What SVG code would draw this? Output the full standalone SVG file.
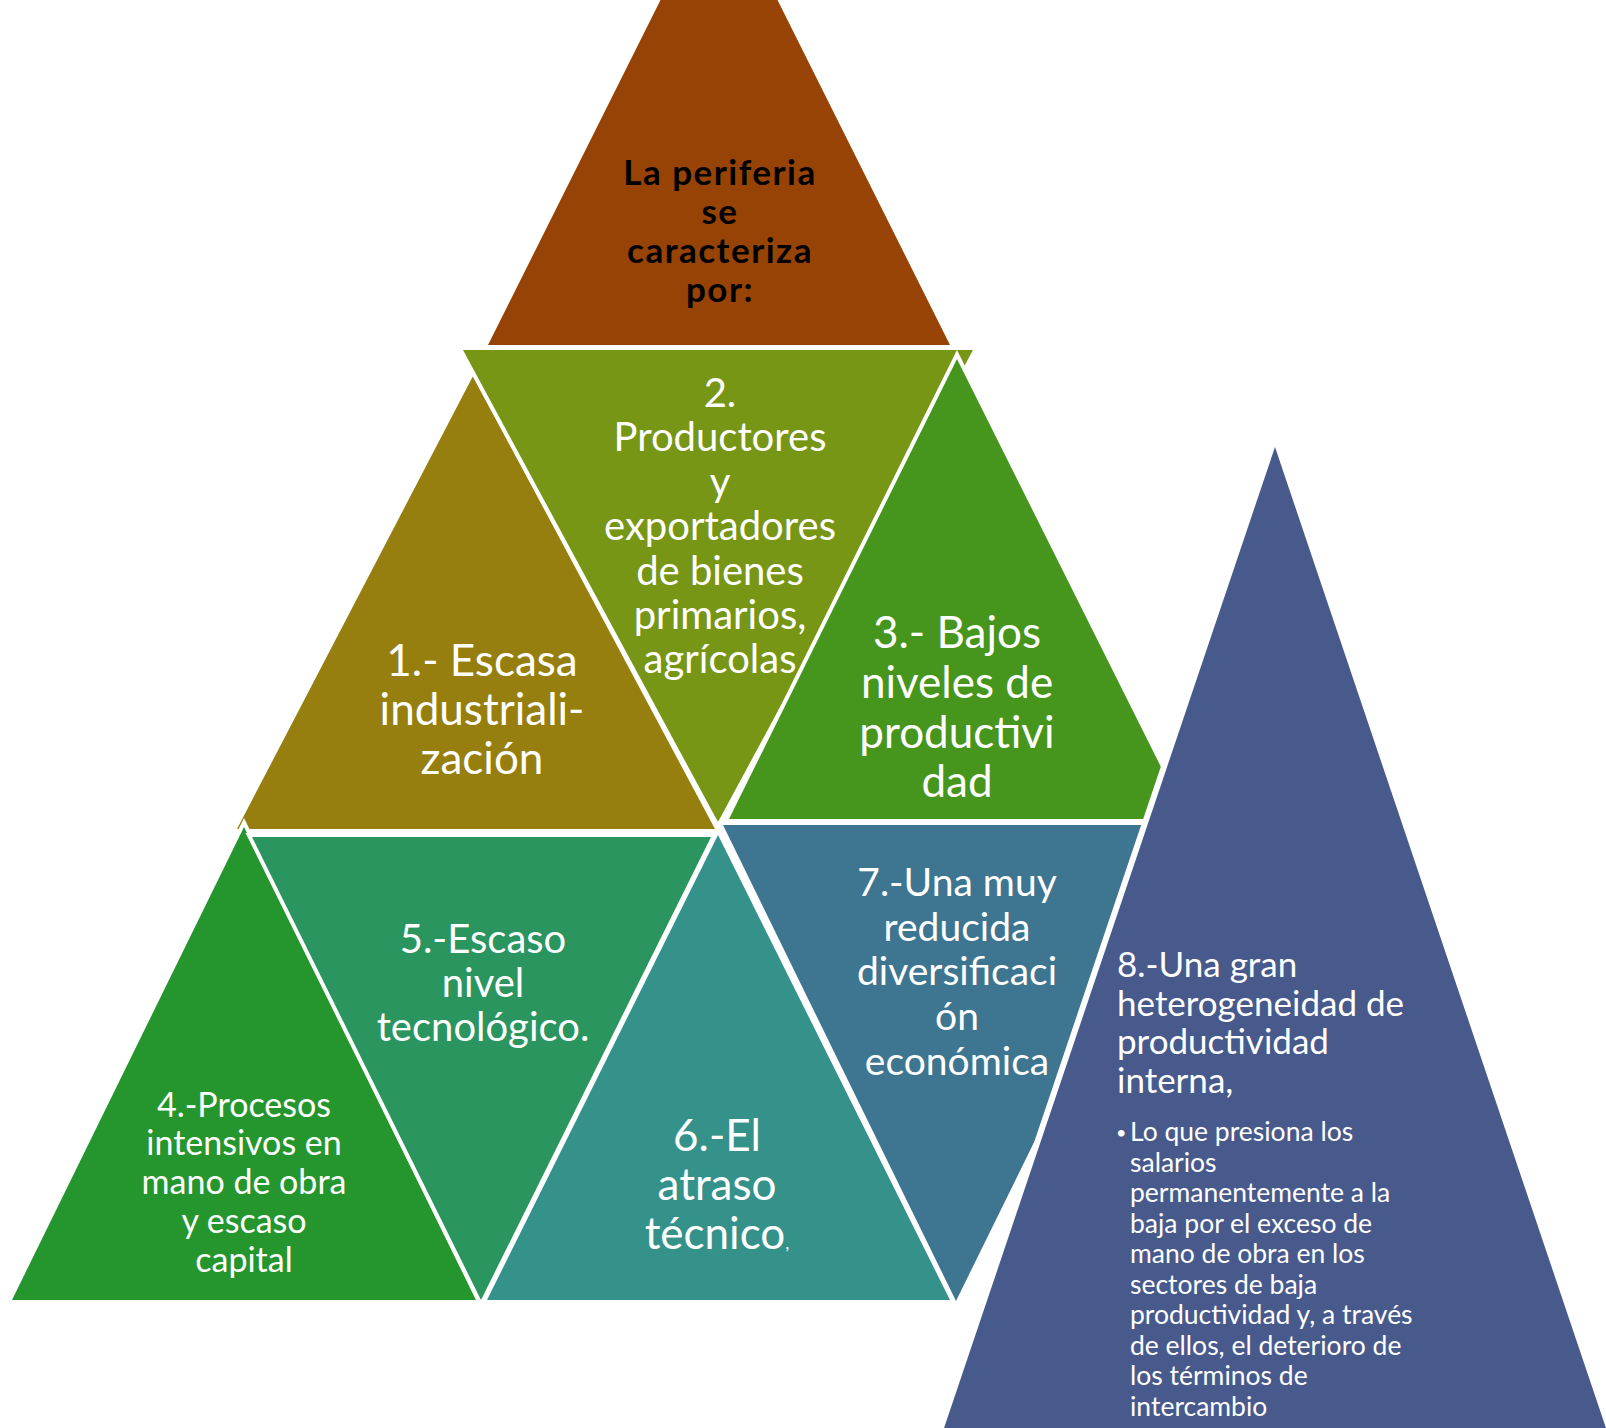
<svg xmlns="http://www.w3.org/2000/svg" width="1606" height="1428" viewBox="0 0 1606 1428">
<style>
.tri{stroke:#ffffff;stroke-width:8;stroke-linejoin:miter;paint-order:stroke}
.t{font-family:Lato,"Open Sans","Liberation Sans",sans-serif;fill:#ffffff;text-anchor:middle}
.title{font-family:Lato,"Open Sans","Liberation Sans",sans-serif;fill:#000000;font-weight:700;font-size:35px;letter-spacing:1.5px;text-anchor:middle}
.l{font-family:Lato,"Open Sans","Liberation Sans",sans-serif;fill:#ffffff}
</style>
<rect width="1606" height="1428" fill="#ffffff"/>
<g id="node-top">
<polygon points="719,-117 950,345 488,345" fill="#974305"/>
<text class="title"><tspan x="720" y="185">La periferia</tspan><tspan x="720" y="224">se</tspan><tspan x="720" y="263">caracteriza</tspan><tspan x="720" y="302">por:</tspan></text>
</g>
<g id="node-1">
<polygon class="tri" points="473,376 715,829 237,829" fill="#967F0E"/>
<text class="t" font-size="44"><tspan x="482" y="676">1.- Escasa</tspan><tspan x="482" y="725">industriali-</tspan><tspan x="482" y="774">zación</tspan></text>
</g>
<g id="node-2">
<polygon class="tri" points="463,350 973,350 718,822" fill="#779616"/>
<text class="t" font-size="40"><tspan x="720" y="407">2.</tspan><tspan x="720" y="451">Productores</tspan><tspan x="720" y="496">y</tspan><tspan x="720" y="540">exportadores</tspan><tspan x="720" y="585">de bienes</tspan><tspan x="720" y="629">primarios,</tspan><tspan x="720" y="673">agrícolas</tspan></text>
</g>
<g id="node-3">
<polygon class="tri" points="957,359 1187,819 729,819" fill="#46961E"/>
<text class="t" font-size="44"><tspan x="957" y="648">3.- Bajos</tspan><tspan x="957" y="698">niveles de</tspan><tspan x="957" y="748">productivi</tspan><tspan x="957" y="797">dad</tspan></text>
</g>
<g id="node-4">
<polygon class="tri" points="244,827 476,1300 12,1300" fill="#24962D"/>
<text class="t" font-size="34"><tspan x="244" y="1117">4.-Procesos</tspan><tspan x="244" y="1155">intensivos en</tspan><tspan x="244" y="1194">mano de obra</tspan><tspan x="244" y="1233">y escaso</tspan><tspan x="244" y="1272">capital</tspan></text>
</g>
<g id="node-5">
<polygon class="tri" points="252,837 711,837 481,1300" fill="#2A955F"/>
<text class="t" font-size="40"><tspan x="483" y="953">5.-Escaso</tspan><tspan x="483" y="997">nivel</tspan><tspan x="483" y="1041">tecnológico.</tspan></text>
</g>
<g id="node-6">
<polygon class="tri" points="718,835 950,1300 487,1300" fill="#34928A"/>
<text class="t" font-size="44"><tspan x="717" y="1151">6.-El</tspan><tspan x="717" y="1200">atraso</tspan><tspan x="717" y="1249">técnico<tspan font-size="18">,</tspan></tspan></text>
</g>
<g id="node-7">
<polygon class="tri" points="723,825 1190,825 956,1301" fill="#3E7590"/>
<text class="t" font-size="39"><tspan x="957" y="896">7.-Una muy</tspan><tspan x="957" y="941">reducida</tspan><tspan x="957" y="985">diversificaci</tspan><tspan x="957" y="1030">ón</tspan><tspan x="957" y="1075">económica</tspan></text>
</g>
<g id="node-8">
<polygon points="1275,447 1610,1440 940,1440" fill="#485A8C" stroke="#ffffff" stroke-width="12" paint-order="stroke" stroke-linejoin="miter"/>
<text class="l" font-size="35"><tspan x="1117" y="977">8.-Una gran</tspan><tspan x="1117" y="1016">heterogeneidad de</tspan><tspan x="1117" y="1054">productividad</tspan><tspan x="1117" y="1093">interna,</tspan></text>
<text class="l" font-size="18" x="1116" y="1139">•</text>
<text class="l" font-size="26.5"><tspan x="1130" y="1141">Lo que presiona los</tspan><tspan x="1130" y="1171.5">salarios</tspan><tspan x="1130" y="1202">permanentemente a la</tspan><tspan x="1130" y="1232.5">baja por el exceso de</tspan><tspan x="1130" y="1263">mano de obra en los</tspan><tspan x="1130" y="1293.5">sectores de baja</tspan><tspan x="1130" y="1324">productividad y, a través</tspan><tspan x="1130" y="1354.5">de ellos, el deterioro de</tspan><tspan x="1130" y="1385">los términos de</tspan><tspan x="1130" y="1415.5">intercambio</tspan></text>
</g>
<g id="connectors"></g>
</svg>
